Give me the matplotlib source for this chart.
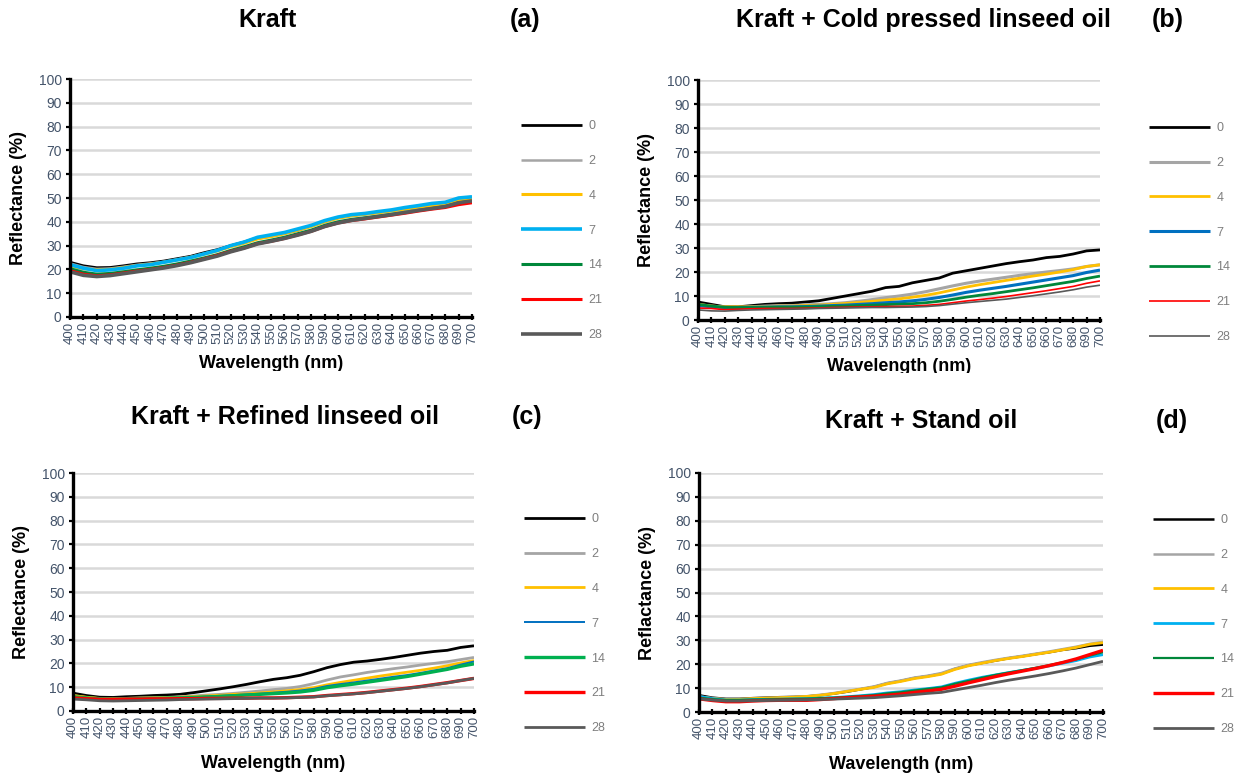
import matplotlib
matplotlib.use('Agg')
import numpy as np
from matplotlib import pyplot as plt
from matplotlib.transforms import Bbox, TransformedBbox

plt.rcParams['font.family'] = ['Liberation Sans Narrow', 'Liberation Sans', 'DejaVu Sans']

W, H = 1237, 774

wavelengths = list(range(400, 701, 10))
days = ['0', '2', '4', '7', '14', '21', '28']

# (a) Kraft
kraft_0 = [23, 21.5, 20.7, 20.8, 21.5, 22.3, 22.8, 23.5, 24.5, 25.5, 27, 28.3, 30, 31.5, 33.3, 34, 35.2, 36.5, 38.3, 40.2, 41.8, 42.7, 43.3, 44, 44.8, 45.5, 46.2, 47, 47.5, 49, 49.5]
kraft_2 = [22.5, 21, 20.2, 20.4, 21.1, 21.9, 22.5, 23.2, 24.2, 25.2, 26.6, 28, 29.7, 31.2, 33, 33.8, 35, 36.4, 38.1, 40, 41.6, 42.5, 43.1, 43.8, 44.6, 45.3, 46, 46.8, 47.4, 48.8, 49.3]
kraft_4 = [21.5, 20.3, 19.8, 20, 20.8, 21.6, 22.2, 23, 24, 25.1, 26.4, 27.8, 29.6, 31, 32.8, 33.8, 35, 36.5, 38, 40, 41.5, 42.5, 43.2, 43.8, 44.6, 45.4, 46.2, 46.8, 47.5, 49, 49.5]
kraft_7 = [22, 20.5, 19.5, 19.8, 20.5, 21.5, 22, 23, 24, 25, 26.5, 28, 30, 31.5, 33.5, 34.5, 35.5, 37, 38.5, 40.5, 42, 43, 43.5, 44.3, 45, 46, 46.8, 47.7, 48.2, 50, 50.5]
kraft_14 = [20.3, 18.8, 18, 18.3, 19, 19.8, 20.5, 21.3, 22.3, 23.5, 24.8, 26.2, 28, 29.5, 31.2, 32.3, 33.5, 35, 36.5, 38.5, 40, 41, 41.7, 42.4, 43.2, 44, 44.8, 45.6, 46.4, 48, 48.6]
kraft_21 = [19.5, 18, 17.3, 17.7, 18.5, 19.3, 20, 20.8, 21.8, 23, 24.4, 25.9, 27.6, 29, 30.8, 31.8, 33, 34.5, 36, 38, 39.5, 40.5, 41.2, 42, 42.8, 43.6, 44.5, 45.3, 46, 47.2, 48]
kraft_28 = [19, 17.5, 17, 17.4, 18.2, 19, 19.8, 20.6, 21.6, 22.8, 24.2, 25.6, 27.4, 28.9, 30.7, 31.8, 33, 34.4, 36, 38, 39.5, 40.6, 41.4, 42.2, 43, 43.9, 44.8, 45.6, 46.4, 48, 48.8]

# (b) Kraft + cold pressed linseed oil
cold_0 = [7.5, 6.5, 5.5, 5.5, 6, 6.5, 6.8, 7, 7.5, 8, 9, 10, 11, 12, 13.5, 14, 15.5, 16.5, 17.5, 19.5, 20.5, 21.5, 22.5, 23.5, 24.3, 25, 26, 26.5, 27.5, 28.8, 29.2]
cold_2 = [6.5, 5.8, 5.3, 5.3, 5.5, 5.8, 6, 6, 6.3, 6.5, 6.8, 7.2, 7.8, 8.5, 9.3, 10, 10.8, 11.8, 13, 14.2, 15.3, 16.2, 17, 17.8, 18.6, 19.3, 20, 20.6, 21.3, 22.3, 23]
cold_4 = [6.5, 5.8, 5.5, 5.5, 5.5, 5.6, 5.8, 5.8, 6, 6.2, 6.5, 6.9, 7.3, 7.8, 8.3, 8.8, 9.5, 10.3, 11.3, 12.5, 13.7, 14.7, 15.6, 16.5, 17.4, 18.3, 19.1, 20, 21, 22.3, 23]
cold_7 = [6, 5.5, 5.2, 5.2, 5.3, 5.4, 5.5, 5.5, 5.6, 5.8, 6, 6.2, 6.5, 6.8, 7.2, 7.5, 8, 8.6, 9.4, 10.4, 11.5, 12.4, 13.2, 14, 14.9, 15.8, 16.7, 17.6, 18.5, 19.8, 20.8]
cold_14 = [6.5, 5.8, 5.3, 5.2, 5.2, 5.2, 5.3, 5.3, 5.4, 5.5, 5.7, 5.8, 6, 6.2, 6.4, 6.6, 6.8, 7.2, 7.8, 8.6, 9.5, 10.3, 11, 11.8, 12.6, 13.4, 14.3, 15.2, 16.1, 17.3, 18.3]
cold_21 = [5, 4.8, 4.3, 4.5, 4.7, 4.8, 4.8, 4.8, 4.9, 5, 5.2, 5.3, 5.4, 5.5, 5.6, 5.7, 5.8, 6.1, 6.5, 7.2, 7.9, 8.5, 9.1, 9.8, 10.6, 11.4, 12.2, 13.1, 14, 15.3, 16.3]
cold_28 = [4.2, 3.8, 3.7, 4, 4.2, 4.3, 4.4, 4.5, 4.6, 4.8, 4.9, 5, 5.1, 5.2, 5.2, 5.3, 5.4, 5.6, 6, 6.6, 7.2, 7.7, 8.2, 8.7, 9.4, 10.1, 10.9, 11.7, 12.6, 13.7, 14.5]

# (c) Kraft + refined linseed oil
refined_0 = [7.5, 6.5, 5.8, 5.7, 6, 6.2, 6.5, 6.7, 7, 7.7, 8.5, 9.3, 10.2, 11.2, 12.3, 13.3, 14, 15, 16.5, 18.2, 19.5, 20.5, 21, 21.7, 22.5, 23.4, 24.3, 25, 25.5, 26.7, 27.4]
refined_2 = [6.5, 5.7, 5.2, 5.1, 5.3, 5.5, 5.6, 5.7, 6, 6.3, 6.7, 7, 7.4, 7.9, 8.4, 9, 9.5, 10.3, 11.5, 13, 14.3, 15.2, 16.2, 17, 17.8, 18.5, 19.3, 20, 20.7, 21.6, 22.5]
refined_4 = [6.5, 5.8, 5.3, 5.2, 5.3, 5.4, 5.5, 5.6, 5.8, 6, 6.3, 6.6, 7, 7.2, 7.6, 8, 8.5, 9, 9.8, 11, 12, 12.9, 13.8, 14.7, 15.5, 16.3, 17.1, 18, 19, 20.2, 21.2]
refined_7 = [6, 5.5, 5.2, 5.1, 5.2, 5.3, 5.4, 5.5, 5.6, 5.8, 6.1, 6.4, 6.7, 7, 7.3, 7.7, 8.1, 8.6, 9.3, 10.5, 11.3, 12, 12.8, 13.6, 14.4, 15.1, 16, 17, 18, 19.5, 20.8]
refined_14 = [6, 5.5, 5.1, 5, 5.1, 5.2, 5.3, 5.4, 5.5, 5.7, 5.9, 6.1, 6.4, 6.7, 7, 7.3, 7.6, 8, 8.7, 9.8, 10.6, 11.3, 12.1, 12.9, 13.7, 14.5, 15.5, 16.5, 17.5, 18.8, 19.8]
refined_21 = [5.5, 5.2, 4.9, 4.9, 5, 5, 5.1, 5.1, 5.2, 5.2, 5.3, 5.3, 5.4, 5.4, 5.5, 5.5, 5.6, 5.8, 6, 6.5, 6.9, 7.3, 7.8, 8.4, 9, 9.6, 10.3, 11.1, 11.9, 12.8, 13.7]
refined_28 = [5, 4.7, 4.3, 4.2, 4.3, 4.4, 4.5, 4.6, 4.8, 4.9, 5, 5.1, 5.2, 5.3, 5.4, 5.4, 5.5, 5.7, 5.9, 6.4, 6.8, 7.2, 7.7, 8.3, 8.9, 9.5, 10.2, 11, 11.8, 12.8, 13.7]

# (d) Kraft + stand oil
stand_0 = [7, 6, 5.5, 5.5, 5.8, 6, 6.2, 6.3, 6.5, 7, 7.7, 8.5, 9.5, 10.5, 12, 13, 14.2, 15, 16, 18, 19.5, 20.5, 21.5, 22.5, 23.3, 24.2, 25, 26, 26.7, 27.7, 28.2]
stand_2 = [6.5, 5.8, 5.4, 5.4, 5.7, 5.9, 6.1, 6.3, 6.6, 7.2, 7.9, 8.8, 9.7, 10.7, 12.2, 13.2, 14.4, 15.2, 16.3, 18.2, 19.7, 20.8, 21.8, 22.7, 23.5, 24.4, 25.3, 26.3, 27.3, 28.5, 29.3]
stand_4 = [6.3, 5.6, 5.2, 5.3, 5.6, 5.8, 6, 6.2, 6.5, 7, 7.7, 8.6, 9.5, 10.3, 11.8, 12.8, 14, 14.8, 15.8, 17.8, 19.3, 20.4, 21.5, 22.4, 23.2, 24.1, 25, 26, 27, 28.3, 29]
stand_7 = [6.5, 5.6, 5, 5, 5.2, 5.3, 5.4, 5.5, 5.6, 5.8, 6, 6.4, 6.8, 7.3, 8, 8.5, 9.2, 9.8, 10.5, 12, 13.3, 14.5, 15.5, 16.5, 17.4, 18.3, 19.3, 20.4, 21.5, 23, 24]
stand_14 = [6, 5.4, 5, 5, 5.2, 5.3, 5.4, 5.5, 5.6, 5.8, 6, 6.3, 6.7, 7.1, 7.8, 8.3, 9, 9.7, 10.3, 11.8, 13, 14.3, 15.5, 16.5, 17.5, 18.5, 19.6, 20.8, 22, 23.6, 25]
stand_21 = [5.5, 4.8, 4.3, 4.3, 4.6, 4.8, 4.9, 4.9, 4.9, 5.2, 5.6, 6, 6.3, 6.6, 7, 7.5, 8.2, 8.8, 9.5, 10.8, 12.2, 13.5, 14.8, 16, 17.1, 18.2, 19.4, 20.7, 22.2, 24, 25.8]
stand_28 = [5.5, 5, 4.6, 4.6, 4.7, 4.8, 4.9, 5, 5.1, 5.2, 5.4, 5.6, 5.8, 6, 6.4, 6.8, 7.3, 7.8, 8.2, 9.2, 10.2, 11.2, 12.3, 13.3, 14.2, 15.1, 16.1, 17.2, 18.4, 19.8, 21.2]

titles = ['Kraft', 'Kraft + Cold pressed linseed oil', 'Kraft + Refined linseed oil', 'Kraft + Stand oil']
tags = ['(a)', '(b)', '(c)', '(d)']
ylabels = ['Reflectance (%)', 'Reflectance (%)', 'Reflectance (%)', 'Reflactance (%)']

panels = [
    [kraft_0, kraft_2, kraft_4, kraft_7, kraft_14, kraft_21, kraft_28],
    [cold_0, cold_2, cold_4, cold_7, cold_14, cold_21, cold_28],
    [refined_0, refined_2, refined_4, refined_7, refined_14, refined_21, refined_28],
    [stand_0, stand_2, stand_4, stand_7, stand_14, stand_21, stand_28],
]

colors = [
    ['#000000', '#A5A5A5', '#FFC000', '#00B0F0', '#00873A', '#FF0000', '#595959'],
    ['#000000', '#A5A5A5', '#FFC000', '#0070C0', '#00873A', '#FF0000', '#595959'],
    ['#000000', '#A5A5A5', '#FFC000', '#0070C0', '#00B050', '#FF0000', '#595959'],
    ['#000000', '#A5A5A5', '#FFC000', '#00B0F0', '#00873A', '#FF0000', '#595959'],
]
widths = [
    [2.0, 1.8, 2.2, 2.6, 2.2, 2.2, 2.6],
    [2.0, 2.2, 2.0, 2.2, 2.0, 1.2, 1.2],
    [2.0, 2.0, 2.0, 1.4, 2.4, 2.4, 2.0],
    [1.8, 1.8, 2.0, 2.0, 1.6, 2.4, 2.0],
]

# pixel layout: axes (left, right, top, bottom), legend anchor (x, y), title centre x/y, tag x
axes_px = [(70, 472, 79, 317), (698, 1100, 80, 320), (73, 474, 473, 711), (699, 1103, 473, 712)]
legend_px = [(521, 120), (1149, 122), (524, 513), (1153, 514)]
title_px = [(268, 20), (923, 20), (285, 417), (921, 421)]
tag_px = [525, 1168, 527, 1172]
xlabel_pad = [8, 8, 12, 12]
label_clip_px = [371, 373, None, None]

TICK_COLOR = '#44546A'

fig = plt.figure(figsize=(W / 100, H / 100), dpi=100)

for i in range(4):
    l, r, t, b = axes_px[i]
    ax = fig.add_axes([l / W, (H - b) / H, (r - l) / W, (b - t) / H])
    for j, day in enumerate(days):
        ax.plot(wavelengths, panels[i][j], color=colors[i][j], lw=widths[i][j],
                label=day, solid_capstyle='butt')

    ax.set_xlim(400, 700)
    ax.set_ylim(0, 100)
    ax.set_xticks(wavelengths)
    ax.set_xticklabels([str(w) for w in wavelengths], rotation=90)
    ax.set_yticks(range(0, 101, 10))
    ax.grid(axis='y', color='#D9D9D9', lw=1.8)
    ax.set_axisbelow(True)
    for s in ['top', 'right']:
        ax.spines[s].set_visible(False)
    for s in ['left', 'bottom']:
        ax.spines[s].set_linewidth(2.4)
        ax.spines[s].set_zorder(5)
    ax.tick_params(axis='x', direction='inout', length=5, width=1.6, pad=1,
                   labelsize=9.5, labelcolor=TICK_COLOR)
    ax.tick_params(axis='y', direction='out', length=3, width=1.6, pad=3,
                   labelsize=10, labelcolor=TICK_COLOR)

    ax.set_ylabel(ylabels[i], fontsize=13, fontweight='bold', labelpad=8)
    ax.set_xlabel('Wavelength (nm)', fontsize=13, fontweight='bold', labelpad=xlabel_pad[i])

    # the top row's axis titles run into the lower panels and are cut off
    if label_clip_px[i] is not None:
        clip = Bbox.from_extents(0, (H - label_clip_px[i]) / H, 1, 1)
        ax.xaxis.label.set_clip_box(TransformedBbox(clip, fig.transFigure))
        ax.xaxis.label.set_clip_on(True)

    lx, ly = legend_px[i]
    ax.legend(loc='upper left', bbox_to_anchor=(lx / W, (H - ly) / H),
              bbox_transform=fig.transFigure, frameon=False, fontsize=9,
              handlelength=4.9, handletextpad=0.5, labelspacing=1.83,
              borderpad=0, borderaxespad=0, labelcolor='#7F7F7F')

    tx, ty = title_px[i]
    fig.text(tx / W, (H - ty) / H, titles[i], ha='center', va='center',
             fontsize=18, fontweight='bold')
    fig.text(tag_px[i] / W, (H - ty) / H, tags[i], ha='center', va='center',
             fontsize=18, fontweight='bold')

fig.savefig('out.png', dpi=100)
